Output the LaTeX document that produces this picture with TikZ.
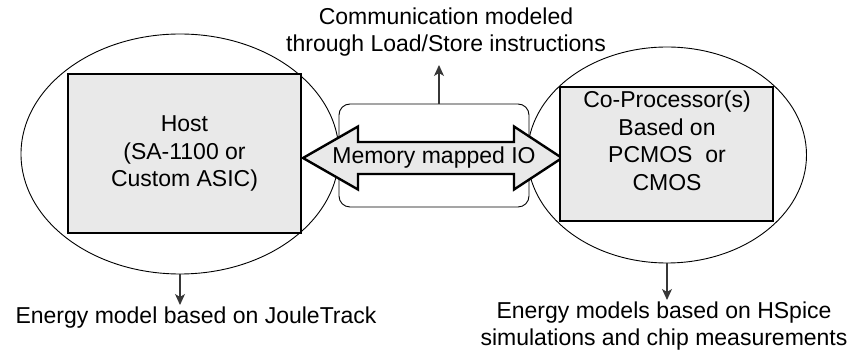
\documentclass[tikz,border=0pt]{standalone}
\usepackage{fontspec}
\setmainfont{Liberation Sans}
\usetikzlibrary{arrows.meta,shapes.geometric}
\definecolor{boxgray}{RGB}{233,233,233}
\definecolor{conngray}{RGB}{55,55,55}
\begin{document}
\begin{tikzpicture}[x=1pt,y=-1pt,
  font=\fontsize{23}{27.5}\selectfont,
  zone/.style={ellipse, draw, line width=0.9pt, inner sep=0pt},
  procbox/.style={draw, line width=2.4pt, fill=boxgray, align=center, inner sep=0pt},
  busbox/.style={draw, line width=0.9pt, rounded corners=11pt, inner sep=0pt},
  arrowbody/.style={draw, line width=2.4pt, fill=boxgray, line join=miter},
  conn/.style={draw=conngray, line width=1.1pt, -{Stealth[length=11pt,width=10pt,inset=3pt]}},
  lbl/.style={align=center, inner sep=0pt}]
\useasboundingbox (0,0) rectangle (855,352);
% zones
\node[zone, minimum width=318pt, minimum height=240pt] (hostell) at (180,154) {};
\node[zone, minimum width=279pt, minimum height=216pt] (copell) at (667,155) {};
% bus
\node[busbox, minimum width=190pt, minimum height=103pt] (bus) at (434,155.5) {};
% double arrow
\path[arrowbody] (303,158) -- (358,126.5) -- (358,142) -- (514,142) -- (514,126.5)
  -- (562,158) -- (514,189.5) -- (514,174) -- (358,174) -- (358,189.5) -- cycle;
\node[lbl] (mmio) at (434,158) {Memory mapped IO};
% processors
\node[procbox, minimum width=233pt, minimum height=159pt] (host) at (184.5,153.5)
  {Host\\(SA-1100 or\\Custom ASIC)};
\node[procbox, minimum width=213pt, minimum height=134pt] (cop) at (666.5,154) {};
\node[lbl] (coptext) at (667,141) {Co-Processor(s)\\Based on\\PCMOS\ \ or\\CMOS};
% top label
\node[lbl] (comm) at (446,32) {Communication modeled\\through Load/Store instructions};
\coordinate (commtip) at (439,65);
\draw[conn] (bus.north -| commtip) -- (commtip);
% bottom labels
\coordinate (jttip) at (180,305);
\draw[conn] (hostell.south) -- (jttip);
\node[lbl] (jt) at (196,318) {Energy model based on JouleTrack};
\coordinate (hstip) at (667,300);
\draw[conn] (copell.south) -- (hstip);
\node[lbl] (hs) at (664,326) {Energy models based on HSpice\\simulations and chip measurements};
\end{tikzpicture}
\end{document}
